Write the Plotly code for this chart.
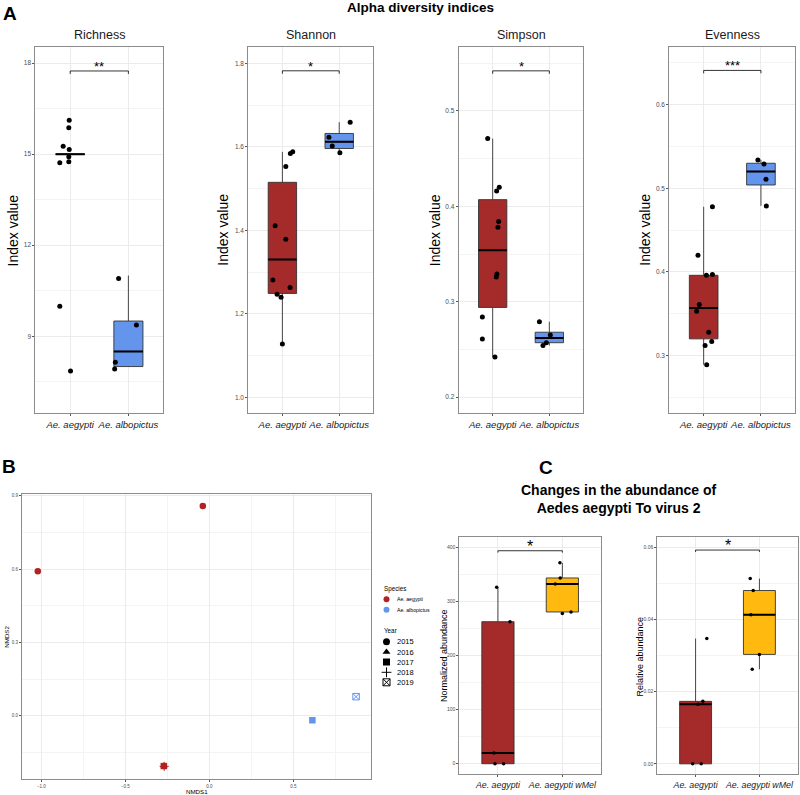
import plotly.graph_objects as go

W, H = 800, 795
FONT = "Liberation Sans, Arial, sans-serif"

# ---------------- panel A: alpha diversity ----------------
species = ["Ae. aegypti", "Ae. albopictus"]
index_names = ["Richness", "Shannon", "Simpson", "Evenness"]
sig_labels = ["**", "*", "*", "***"]
sig_heights = [17.74, 1.782, 0.542, 0.641]

# box stats: lower whisker, q1, median, q3, upper whisker
richness_box_aeg = [15.0, 15.0, 15.0, 15.0, 15.0]
richness_box_alb = [8.0, 8.0, 8.5, 9.5, 11.0]
shannon_box_aeg = [1.128, 1.249, 1.330, 1.515, 1.588]
shannon_box_alb = [1.586, 1.596, 1.612, 1.632, 1.659]
simpson_box_aeg = [0.242, 0.294, 0.354, 0.407, 0.471]
simpson_box_alb = [0.254, 0.257, 0.262, 0.268, 0.279]
evenness_box_aeg = [0.289, 0.320, 0.357, 0.396, 0.478]
evenness_box_alb = [0.479, 0.504, 0.520, 0.530, 0.534]

# jittered sample points (x in category units)
richness_aeg_x = [0.983, 0.976, 0.879, 0.983, 0.976, 0.976, 0.821, 0.821, 1.005]
richness_aeg_y = [16.12, 15.87, 15.26, 15.15, 14.91, 14.75, 14.72, 9.99, 7.85]
richness_alb_x = [1.832, 2.138, 1.776, 1.764]
richness_alb_y = [10.9, 9.37, 8.14, 7.92]

shannon_aeg_x = [1.182, 1.140, 1.060, 0.872, 1.060, 0.832, 1.135, 0.907, 0.977, 1.0]
shannon_aeg_y = [1.588, 1.584, 1.553, 1.411, 1.379, 1.281, 1.263, 1.247, 1.240, 1.128]
shannon_alb_x = [2.193, 1.819, 1.877, 2.012]
shannon_alb_y = [1.659, 1.623, 1.602, 1.586]

simpson_aeg_x = [0.912, 1.116, 1.070, 1.105, 1.093, 1.075, 1.063, 0.818, 0.818, 1.040]
simpson_aeg_y = [0.471, 0.420, 0.416, 0.384, 0.378, 0.329, 0.326, 0.284, 0.261, 0.242]
simpson_alb_x = [1.825, 2.018, 1.947, 1.888]
simpson_alb_y = [0.279, 0.265, 0.257, 0.254]

evenness_aeg_x = [1.153, 0.901, 1.153, 1.048, 0.924, 0.877, 1.088, 1.141, 1.025, 1.053]
evenness_aeg_y = [0.478, 0.420, 0.397, 0.396, 0.361, 0.353, 0.328, 0.317, 0.312, 0.289]
evenness_alb_x = [1.947, 2.053, 2.088, 2.094]
evenness_alb_y = [0.534, 0.529, 0.511, 0.479]

# ---------------- panel B: NMDS ----------------
nmds1 = [-1.021, -0.039, -0.270, -0.271, -0.269, 0.613, 0.873]
nmds2 = [0.591, 0.858, -0.205, -0.206, -0.207, -0.018, 0.078]
nmds_species = ["Ae. aegypti"] * 5 + ["Ae. albopictus"] * 2
nmds_year = [2015, 2015, 2016, 2017, 2018, 2017, 2019]
years = [2015, 2016, 2017, 2018, 2019]

# ---------------- panel C: virus abundance ----------------
groups_c = ["Ae. aegypti", "Ae. aegypti wMel"]
norm_aeg = [326.7, 263.0, 20.0, 0.0, 0.0]
norm_aeg_x = [0.980, 1.187, 0.938, 0.954, 1.088]
norm_wmel = [372.0, 344.0, 333.0, 278.0, 281.0]
norm_wmel_x = [1.962, 1.967, 1.890, 2.000, 2.135]
norm_box_aeg = [0.0, 0.0, 20.0, 263.0, 326.7]
norm_box_wmel = [278.0, 281.0, 333.0, 344.0, 372.0]

rel_aeg = [0.0347, 0.0173, 0.0165, 0.0, 0.0]
rel_aeg_x = [1.176, 1.114, 1.037, 0.954, 1.088]
rel_wmel = [0.0513, 0.0480, 0.0413, 0.0303, 0.0262]
rel_wmel_x = [1.856, 1.903, 1.866, 2.000, 1.887]
rel_box_aeg = [0.0, 0.0, 0.0165, 0.0173, 0.0347]
rel_box_wmel = [0.0262, 0.0303, 0.0413, 0.0480, 0.0513]

# colours
RED = "#A52A2A"
RED_PT = "#B22222"
BLUE = "#6495ED"
ORANGE = "#FFB90F"
species_color = {"Ae. aegypti": RED_PT, "Ae. albopictus": BLUE}
year_symbol = {2015: "circle", 2016: "triangle-up", 2017: "square",
               2018: "cross-thin-open", 2019: "square-x-open"}


def dom_x(a, b):
    return [a / W, b / W]


def dom_y(top, bottom):
    return [1 - bottom / H, 1 - top / H]


def axis_style(**kw):
    base = dict(showline=True, mirror=True, linecolor="#8c8c8c", linewidth=1,
                ticks="outside", ticklen=2, tickwidth=0.7, tickcolor="#555555",
                showgrid=True, gridcolor="#ebebeb", gridwidth=1, zeroline=False,
                tickangle=0, tickfont=dict(family=FONT, size=6.5, color="#4d4d4d"),
                fixedrange=True)
    base.update(kw)
    return base


def note(x, y, text, size, anchor="center", angle=0, color="black"):
    # text placed by pixel position on the page
    return dict(x=x / W, y=1 - y / H, xref="paper", yref="paper", text=text,
                xanchor=anchor, yanchor="middle", textangle=angle, showarrow=False,
                font=dict(family=FONT, size=size, color=color))


fig = go.Figure()
annotations = []


def add_box_panel(n, boxes, pts, colors, yb, label, pt_size, star_size, star_shift):
    xa, ya = ("x", "y") if n == 1 else ("x%d" % n, "y%d" % n)
    for i, (stats, col) in enumerate(zip(boxes, colors)):
        c = i + 1
        fig.add_trace(go.Box(
            x=[c], lowerfence=[stats[0]], q1=[stats[1]], median=[stats[2]],
            q3=[stats[3]], upperfence=[stats[4]], width=0.5, orientation="v",
            fillcolor=col, line=dict(color="#333333", width=0.9), whiskerwidth=0,
            boxpoints=False, showlegend=False, hoverinfo="skip", xaxis=xa, yaxis=ya))
        # thicker median line, as in ggplot
        fig.add_trace(go.Scatter(
            x=[c - 0.25, c + 0.25], y=[stats[2], stats[2]], mode="lines",
            line=dict(color="black", width=2), showlegend=False, hoverinfo="skip",
            xaxis=xa, yaxis=ya))
    for px_, py_ in pts:
        fig.add_trace(go.Scatter(
            x=px_, y=py_, mode="markers", marker=dict(color="black", size=pt_size),
            showlegend=False, hoverinfo="skip", xaxis=xa, yaxis=ya))
    # significance bracket
    yr = fig.layout[("yaxis" if n == 1 else "yaxis%d" % n)].range
    d = (yr[1] - yr[0]) * 0.008
    fig.add_trace(go.Scatter(
        x=[1, 1, 2, 2], y=[yb - d, yb, yb, yb - d], mode="lines",
        line=dict(color="black", width=0.8), showlegend=False, hoverinfo="skip",
        xaxis=xa, yaxis=ya))
    annotations.append(dict(x=1.5, y=yb, xref=xa, yref=ya, text=label, showarrow=False,
                            xanchor="center", yanchor="bottom", yshift=star_shift,
                            font=dict(family=FONT, size=star_size, color="black")))


# ---- layout positions (pixels) ----
a_left = [35.3, 248.3, 458.7, 669.3]
a_right = [163.3, 373.3, 583.3, 795.3]
a_top, a_bottom = 47, 413.3
a_yrange = [(6.46, 18.53), (0.962, 1.839), (0.183, 0.567), (0.231, 0.669)]
a_dtick = [3, 0.2, 0.1, 0.1]
a_fmt = ["d", ".1f", ".1f", ".1f"]
a_ytitle_x = [13.3, 223.5, 435, 645.5]

layout_axes = {}
for k in range(4):
    n = k + 1
    xk = "xaxis" if n == 1 else "xaxis%d" % n
    yk = "yaxis" if n == 1 else "yaxis%d" % n
    layout_axes[xk] = axis_style(
        domain=dom_x(a_left[k], a_right[k]), range=[0.4, 2.6],
        tickvals=[1, 2], ticktext=["<i>%s</i>" % s for s in species],
        tickfont=dict(family=FONT, size=9.5, color="#1a1a1a"),
        anchor="y" if n == 1 else "y%d" % n)
    layout_axes[yk] = axis_style(
        domain=dom_y(a_top, a_bottom), range=list(a_yrange[k]),
        tick0=0, dtick=a_dtick[k], tickformat=a_fmt[k],
        minor=dict(showgrid=True, gridcolor="#f4f4f4", gridwidth=0.6, dtick=a_dtick[k] / 2),
        anchor="x" if n == 1 else "x%d" % n)

# panel B axes
b_left, b_right, b_top, b_bottom = 22, 371.2, 494.3, 779.3
layout_axes["xaxis5"] = axis_style(
    domain=dom_x(b_left, b_right), range=[-1.115, 0.963], tick0=0, dtick=0.5,
    tickformat=".1f", tickfont=dict(family=FONT, size=4.5, color="#4d4d4d"),
    minor=dict(showgrid=True, gridcolor="#f4f4f4", gridwidth=0.6, dtick=0.25), anchor="y5")
layout_axes["yaxis5"] = axis_style(
    domain=dom_y(b_top, b_bottom), range=[-0.26, 0.906], tick0=0, dtick=0.3,
    tickformat=".1f", tickfont=dict(family=FONT, size=4.5, color="#4d4d4d"),
    minor=dict(showgrid=True, gridcolor="#f4f4f4", gridwidth=0.6, dtick=0.15), anchor="x5")

# panel C axes
c_top, c_bottom = 536.7, 774.3
c_boxes = [(459.3, 601), (657.3, 797.7)]
c_yrange = [(-19.6, 420.4), (-0.0029, 0.0629)]
c_dtick = [100, 0.02]
c_fmt = ["d", ".2f"]
for k in range(2):
    n = 6 + k
    layout_axes["xaxis%d" % n] = axis_style(
        domain=dom_x(*c_boxes[k]), range=[0.4, 2.6], tickvals=[1, 2],
        ticktext=["<i>%s</i>" % s for s in groups_c],
        tickfont=dict(family=FONT, size=8.8, color="#1a1a1a"), anchor="y%d" % n)
    layout_axes["yaxis%d" % n] = axis_style(
        domain=dom_y(c_top, c_bottom), range=list(c_yrange[k]), tick0=0,
        dtick=c_dtick[k], tickformat=c_fmt[k],
        tickfont=dict(family=FONT, size=5, color="#4d4d4d"),
        minor=dict(showgrid=True, gridcolor="#f4f4f4", gridwidth=0.6, dtick=c_dtick[k] / 2),
        anchor="x%d" % n)

# pixel overlay axis for the hand-drawn legend of panel B
layout_axes["xaxis8"] = dict(domain=[0, 1], range=[0, W], visible=False, fixedrange=True, anchor="y8")
layout_axes["yaxis8"] = dict(domain=[0, 1], range=[H, 0], visible=False, fixedrange=True, anchor="x8")

fig.update_layout(**layout_axes)

# ---- panel A traces ----
a_boxes = [(richness_box_aeg, richness_box_alb), (shannon_box_aeg, shannon_box_alb),
           (simpson_box_aeg, simpson_box_alb), (evenness_box_aeg, evenness_box_alb)]
a_pts = [[(richness_aeg_x, richness_aeg_y), (richness_alb_x, richness_alb_y)],
         [(shannon_aeg_x, shannon_aeg_y), (shannon_alb_x, shannon_alb_y)],
         [(simpson_aeg_x, simpson_aeg_y), (simpson_alb_x, simpson_alb_y)],
         [(evenness_aeg_x, evenness_aeg_y), (evenness_alb_x, evenness_alb_y)]]
for k in range(4):
    add_box_panel(k + 1, a_boxes[k], a_pts[k], [RED, BLUE], sig_heights[k], sig_labels[k], 5, 13, -5)
    annotations.append(note((a_left[k] + a_right[k]) / 2, 34.7, index_names[k], 12.5, color="#1a1a1a"))
    annotations.append(note(a_ytitle_x[k], (a_top + a_bottom) / 2, "Index value", 14, angle=-90))

# ---- panel B traces ----
fig.add_trace(go.Scatter(
    x=nmds1, y=nmds2, mode="markers",
    marker=dict(symbol=[year_symbol[y] for y in nmds_year],
                color=[species_color[s] for s in nmds_species], size=6.5,
                line=dict(color=[species_color[s] for s in nmds_species],
                          width=[1 if year_symbol[y].endswith("open") else 0 for y in nmds_year])),
    showlegend=False, hoverinfo="skip", xaxis="x5", yaxis="y5"))

# legend for panel B
leg_x = 386.5
sp_rows = [599.3, 609.7]
yr_rows = [641.7, 652.0, 662.0, 672.3, 682.3]
fig.add_trace(go.Scatter(
    x=[leg_x] * len(species), y=sp_rows, mode="markers",
    marker=dict(symbol="circle", color=[species_color[s] for s in species], size=6),
    showlegend=False, hoverinfo="skip", xaxis="x8", yaxis="y8"))
fig.add_trace(go.Scatter(
    x=[leg_x] * len(years), y=yr_rows, mode="markers",
    marker=dict(symbol=[year_symbol[y] for y in years], color="black", size=7,
                line=dict(color="black", width=[1 if year_symbol[y].endswith("open") else 0 for y in years])),
    showlegend=False, hoverinfo="skip", xaxis="x8", yaxis="y8"))
annotations.append(note(381.7, 588.5, "Species", 6.3, anchor="left"))
annotations.append(note(381.7, 630.7, "Year", 6.3, anchor="left"))
for s, r in zip(species, sp_rows):
    annotations.append(note(394.5, r, s, 5.2, anchor="left"))
for yv, r in zip(years, yr_rows):
    annotations.append(note(394.5, r, str(yv), 7.5, anchor="left"))
annotations.append(note((b_left + b_right) / 2, 791, "NMDS1", 6.2))
annotations.append(note(7, (b_top + b_bottom) / 2, "NMDS2", 6.2, angle=-90))

# ---- panel C traces ----
add_box_panel(6, (norm_box_aeg, norm_box_wmel), [(norm_aeg_x, norm_aeg), (norm_wmel_x, norm_wmel)],
              [RED, ORANGE], 394.4, "*", 3.5, 16, -6)
add_box_panel(7, (rel_box_aeg, rel_box_wmel), [(rel_aeg_x, rel_aeg), (rel_wmel_x, rel_wmel)],
              [RED, ORANGE], 0.0592, "*", 3.5, 16, -6)
annotations.append(note(443.5, 655.5, "Normalized abundance", 9, angle=-90))
annotations.append(note(639, 656.5, "Relative abundance", 9, angle=-90))
annotations.append(note(618.8, 499.2, "<b>Changes in the abundance of<br>Aedes aegypti To virus 2</b>", 14))

# ---- titles and panel letters ----
annotations.append(note(420.8, 7.5, "<b>Alpha diversity indices</b>", 13.5))
for letter, lx, ly in [("A", 9.5, 13.3), ("B", 9.3, 466.7), ("C", 546, 467)]:
    annotations.append(note(lx, ly, "<b>%s</b>" % letter, 19))

fig.update_layout(
    width=W, height=H, margin=dict(l=0, r=0, t=0, b=0),
    paper_bgcolor="white", plot_bgcolor="rgba(0,0,0,0)",
    showlegend=False, annotations=annotations,
    font=dict(family=FONT),
)

fig.write_html("out.html", config={"displayModeBar": False},
               post_script="document.body.style.margin='0px';document.body.style.overflow='hidden';")
